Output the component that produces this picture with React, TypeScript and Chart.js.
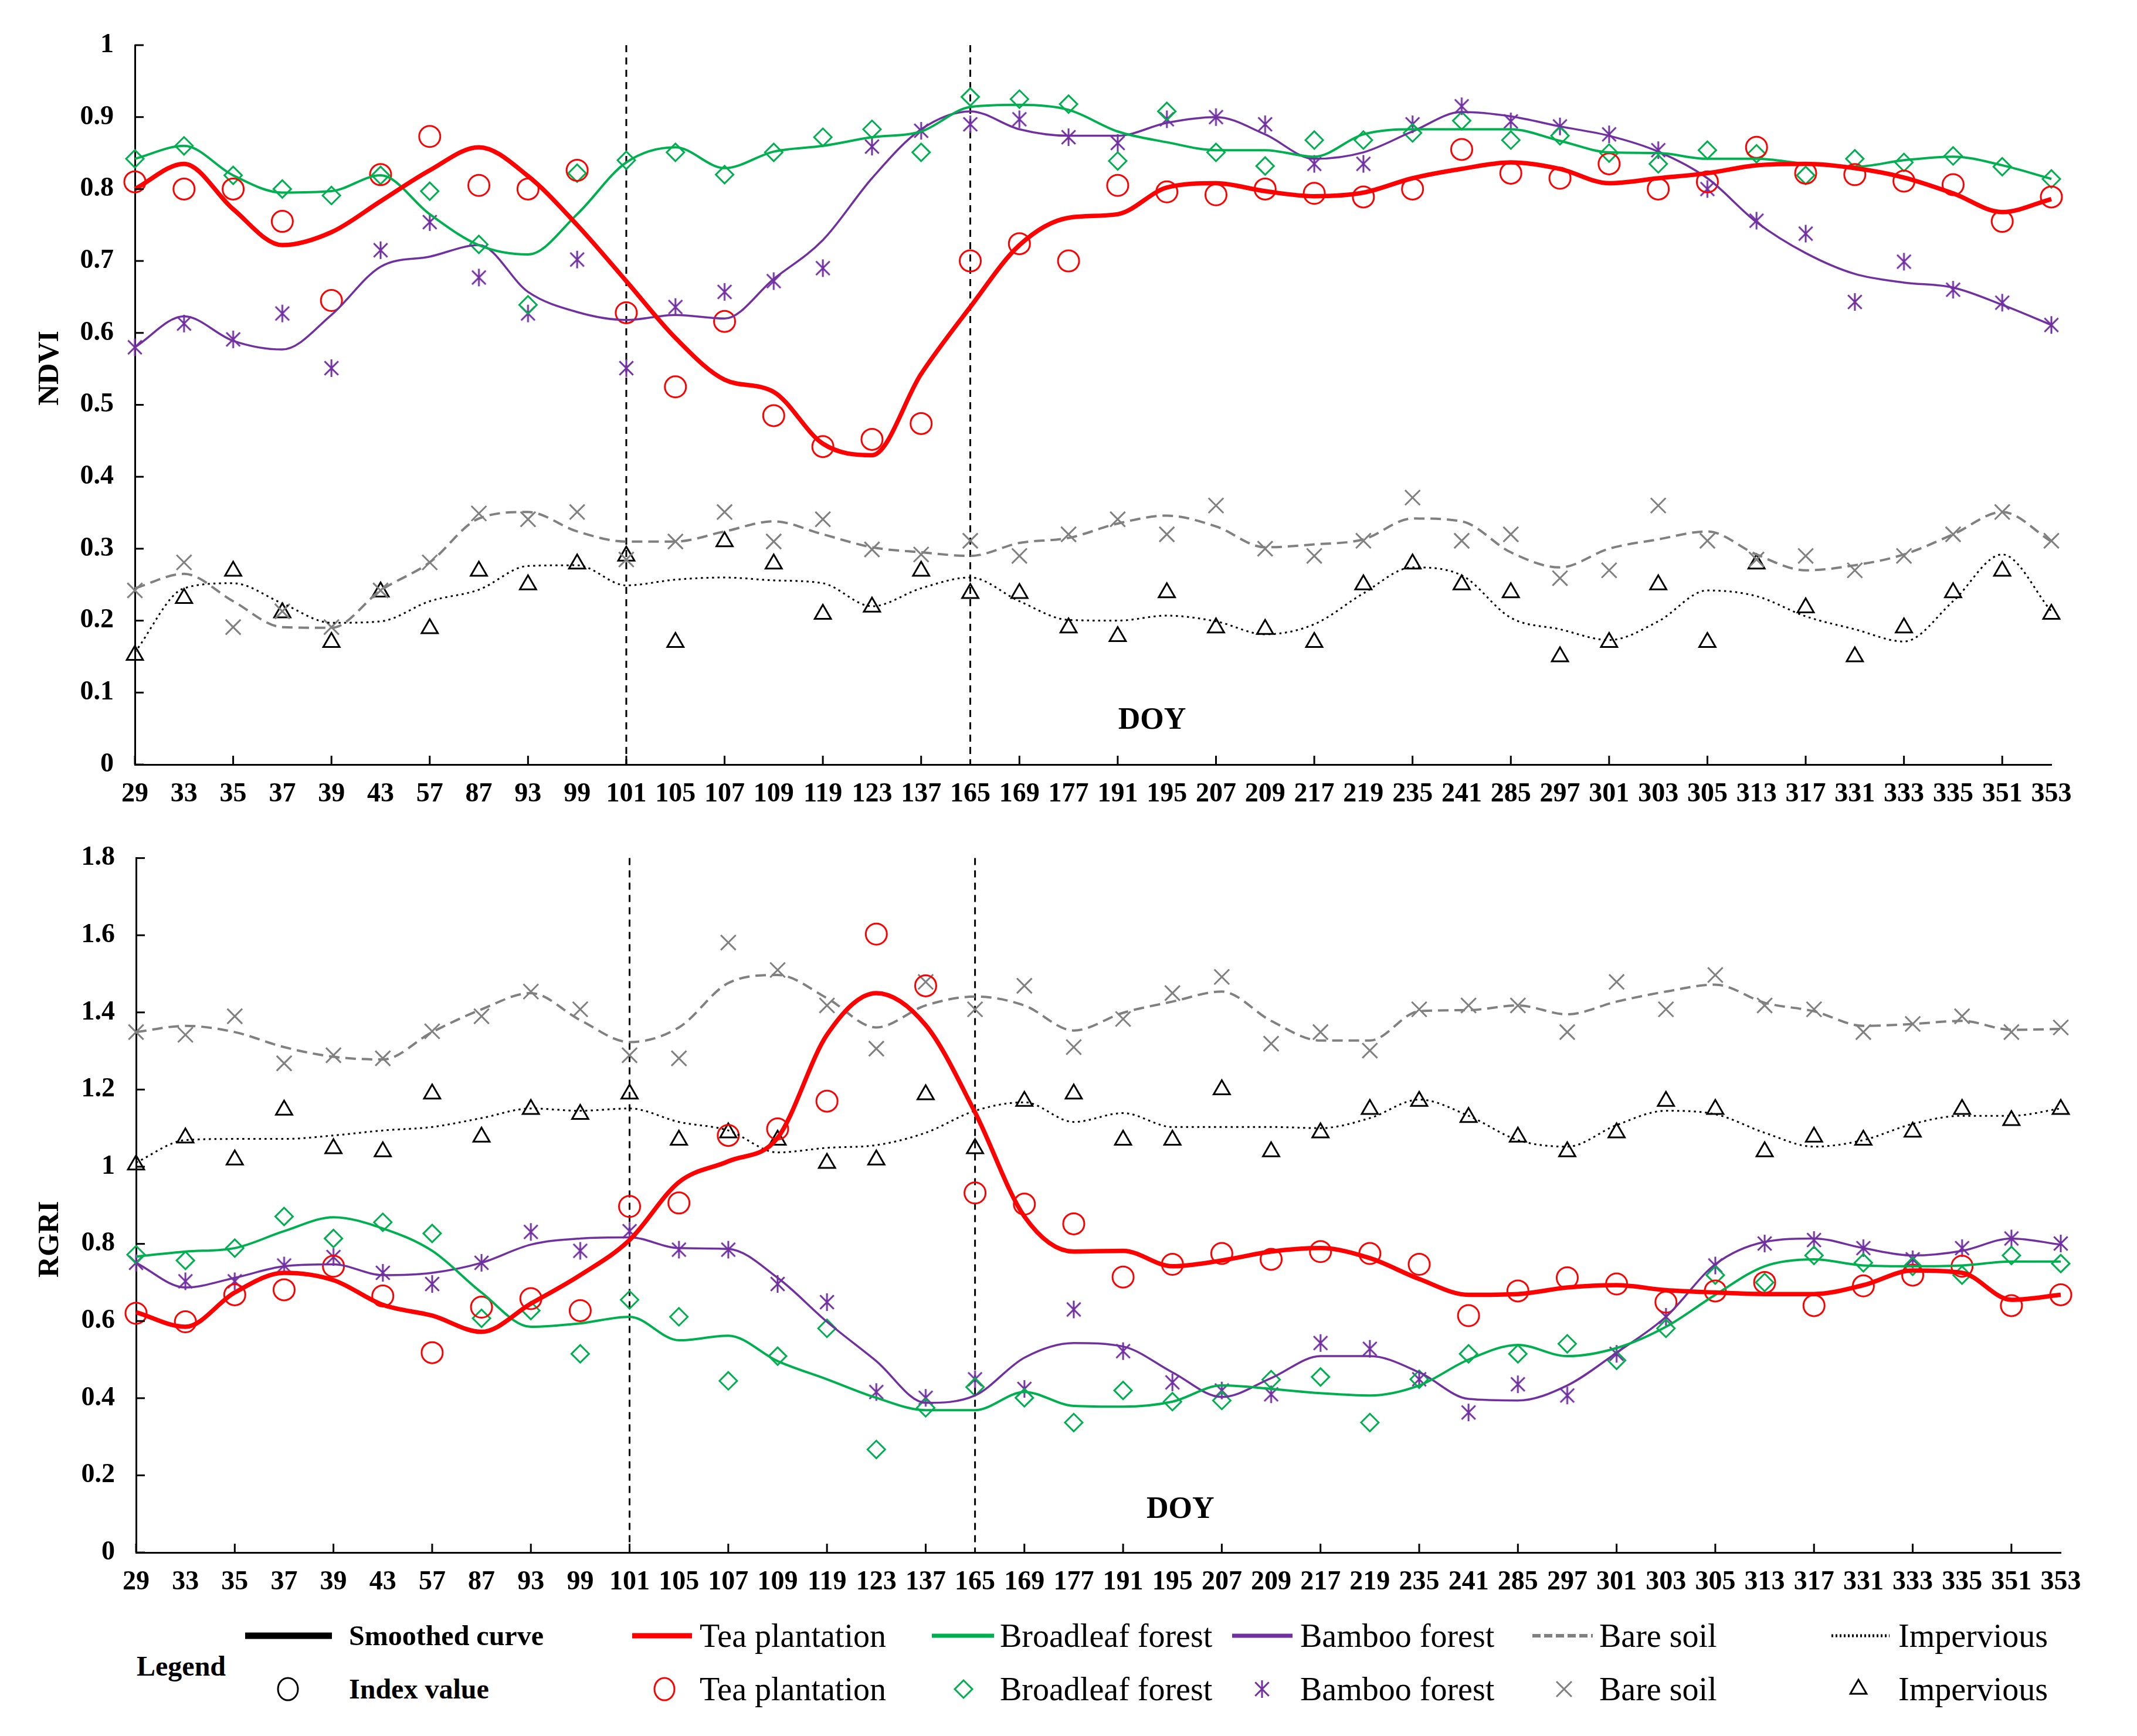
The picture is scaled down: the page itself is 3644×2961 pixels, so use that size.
import React, { useEffect, useRef } from 'react';
import { Chart, registerables } from 'chart.js';

Chart.register(...registerables);

// ---------------- DATA ----------------
const DOY_LABELS = ['29', '33', '35', '37', '39', '43', '57', '87', '93', '99', '101', '105', '107', '109', '119', '123', '137', '165', '169', '177', '191', '195', '207', '209', '217', '219', '235', '241', '285', '297', '301', '303', '305', '313', '317', '331', '333', '335', '351', '353'];

const STAGE_MARKERS = ['101', '165'];

const SERIES_NAMES = ['Tea plantation', 'Broadleaf forest', 'Bamboo forest', 'Bare soil', 'Impervious'];

// NDVI smoothed curves
const NDVI_TEA_SMOOTH = [0.80, 0.835, 0.772, 0.722, 0.74, 0.783, 0.826, 0.858, 0.818, 0.75, 0.672, 0.593, 0.535, 0.518, 0.446, 0.43, 0.543, 0.636, 0.722, 0.76, 0.765, 0.802, 0.808, 0.797, 0.79, 0.795, 0.815, 0.828, 0.837, 0.828, 0.808, 0.815, 0.822, 0.833, 0.835, 0.829, 0.816, 0.794, 0.768, 0.786];
const NDVI_BROADLEAF_SMOOTH = [0.842, 0.86, 0.819, 0.795, 0.797, 0.819, 0.765, 0.722, 0.709, 0.765, 0.837, 0.858, 0.829, 0.852, 0.86, 0.872, 0.88, 0.914, 0.917, 0.91, 0.88, 0.865, 0.854, 0.854, 0.845, 0.876, 0.883, 0.883, 0.883, 0.867, 0.851, 0.85, 0.842, 0.842, 0.835, 0.831, 0.84, 0.845, 0.833, 0.814];
const NDVI_BAMBOO_SMOOTH = [0.58, 0.623, 0.589, 0.577, 0.625, 0.692, 0.706, 0.722, 0.657, 0.629, 0.618, 0.625, 0.62, 0.675, 0.729, 0.815, 0.883, 0.908, 0.883, 0.874, 0.874, 0.892, 0.90, 0.876, 0.842, 0.851, 0.88, 0.907, 0.901, 0.887, 0.874, 0.852, 0.815, 0.754, 0.711, 0.682, 0.67, 0.663, 0.639, 0.611];
const NDVI_BARE_SMOOTH = [0.245, 0.265, 0.227, 0.191, 0.19, 0.242, 0.281, 0.342, 0.351, 0.324, 0.31, 0.31, 0.324, 0.338, 0.32, 0.302, 0.295, 0.29, 0.308, 0.315, 0.335, 0.346, 0.331, 0.302, 0.306, 0.313, 0.342, 0.338, 0.295, 0.274, 0.30, 0.313, 0.324, 0.292, 0.27, 0.277, 0.292, 0.32, 0.351, 0.31];
const NDVI_IMPERVIOUS_SMOOTH = [0.156, 0.245, 0.252, 0.224, 0.197, 0.199, 0.227, 0.243, 0.276, 0.277, 0.249, 0.257, 0.26, 0.256, 0.252, 0.22, 0.245, 0.26, 0.227, 0.201, 0.20, 0.207, 0.199, 0.181, 0.195, 0.238, 0.274, 0.263, 0.204, 0.188, 0.173, 0.199, 0.242, 0.234, 0.206, 0.188, 0.171, 0.227, 0.292, 0.213];

// NDVI index values
const NDVI_TEA_INDEX = [0.81, 0.80, 0.80, 0.755, 0.645, 0.82, 0.873, 0.805, 0.80, 0.826, 0.628, 0.525, 0.616, 0.485, 0.442, 0.452, 0.474, 0.70, 0.724, 0.70, 0.805, 0.796, 0.792, 0.80, 0.794, 0.789, 0.80, 0.855, 0.822, 0.815, 0.835, 0.80, 0.81, 0.858, 0.822, 0.82, 0.811, 0.806, 0.755, 0.789];
const NDVI_BROADLEAF_INDEX = [0.842, 0.86, 0.819, 0.80, 0.791, 0.819, 0.797, 0.723, 0.639, 0.822, 0.84, 0.851, 0.82, 0.851, 0.872, 0.883, 0.851, 0.928, 0.925, 0.918, 0.839, 0.908, 0.851, 0.832, 0.868, 0.868, 0.878, 0.895, 0.868, 0.874, 0.85, 0.835, 0.854, 0.849, 0.819, 0.842, 0.837, 0.846, 0.831, 0.814];
const NDVI_BAMBOO_INDEX = [0.58, 0.613, 0.591, 0.627, 0.551, 0.715, 0.754, 0.677, 0.627, 0.702, 0.551, 0.636, 0.657, 0.672, 0.69, 0.859, 0.881, 0.89, 0.897, 0.872, 0.864, 0.897, 0.90, 0.89, 0.835, 0.835, 0.89, 0.915, 0.894, 0.887, 0.876, 0.854, 0.80, 0.756, 0.738, 0.643, 0.699, 0.66, 0.642, 0.611];
const NDVI_BARE_INDEX = [0.242, 0.281, 0.191, 0.213, 0.191, 0.242, 0.281, 0.349, 0.341, 0.351, 0.285, 0.31, 0.351, 0.31, 0.341, 0.299, 0.292, 0.311, 0.29, 0.32, 0.341, 0.32, 0.36, 0.30, 0.29, 0.311, 0.371, 0.311, 0.32, 0.259, 0.27, 0.36, 0.311, 0.285, 0.29, 0.27, 0.29, 0.32, 0.351, 0.311];
const NDVI_IMPERVIOUS_INDEX = [0.152, 0.231, 0.269, 0.211, 0.17, 0.24, 0.189, 0.269, 0.25, 0.279, 0.29, 0.17, 0.31, 0.279, 0.209, 0.219, 0.269, 0.238, 0.238, 0.19, 0.178, 0.239, 0.19, 0.188, 0.17, 0.25, 0.279, 0.25, 0.239, 0.15, 0.17, 0.25, 0.17, 0.279, 0.218, 0.15, 0.19, 0.239, 0.269, 0.209];

// RGRI smoothed curves
const RGRI_TEA_SMOOTH = [0.623, 0.585, 0.674, 0.725, 0.706, 0.642, 0.614, 0.572, 0.645, 0.719, 0.81, 0.96, 1.014, 1.075, 1.342, 1.45, 1.367, 1.141, 0.871, 0.78, 0.782, 0.742, 0.757, 0.78, 0.789, 0.763, 0.709, 0.668, 0.67, 0.687, 0.693, 0.68, 0.674, 0.67, 0.67, 0.693, 0.731, 0.725, 0.655, 0.668];
const RGRI_BROADLEAF_SMOOTH = [0.767, 0.78, 0.789, 0.833, 0.869, 0.84, 0.782, 0.674, 0.585, 0.594, 0.611, 0.55, 0.562, 0.496, 0.449, 0.401, 0.369, 0.369, 0.416, 0.38, 0.378, 0.391, 0.433, 0.424, 0.413, 0.407, 0.433, 0.50, 0.538, 0.509, 0.53, 0.585, 0.668, 0.742, 0.76, 0.744, 0.742, 0.744, 0.754, 0.754];
const RGRI_BAMBOO_SMOOTH = [0.751, 0.687, 0.712, 0.742, 0.747, 0.719, 0.725, 0.751, 0.798, 0.814, 0.817, 0.789, 0.787, 0.712, 0.598, 0.496, 0.388, 0.407, 0.505, 0.543, 0.534, 0.467, 0.403, 0.452, 0.509, 0.509, 0.467, 0.398, 0.394, 0.433, 0.518, 0.611, 0.747, 0.805, 0.814, 0.789, 0.77, 0.782, 0.814, 0.798];
const RGRI_BARE_SMOOTH = [1.349, 1.365, 1.349, 1.31, 1.285, 1.278, 1.349, 1.408, 1.45, 1.38, 1.323, 1.361, 1.476, 1.497, 1.437, 1.361, 1.418, 1.441, 1.418, 1.353, 1.399, 1.428, 1.454, 1.378, 1.327, 1.327, 1.403, 1.406, 1.418, 1.395, 1.428, 1.454, 1.472, 1.425, 1.403, 1.365, 1.37, 1.378, 1.355, 1.357];
const RGRI_IMPERVIOUS_SMOOTH = [1.011, 1.069, 1.072, 1.072, 1.081, 1.094, 1.103, 1.126, 1.151, 1.145, 1.151, 1.116, 1.094, 1.037, 1.049, 1.056, 1.088, 1.145, 1.167, 1.116, 1.139, 1.103, 1.103, 1.103, 1.10, 1.126, 1.174, 1.132, 1.069, 1.052, 1.108, 1.145, 1.136, 1.088, 1.052, 1.069, 1.111, 1.132, 1.132, 1.151];

// RGRI index values
const RGRI_TEA_INDEX = [0.62, 0.598, 0.668, 0.681, 0.742, 0.665, 0.518, 0.636, 0.658, 0.627, 0.897, 0.906, 1.081, 1.098, 1.17, 1.603, 1.469, 0.932, 0.903, 0.852, 0.714, 0.747, 0.775, 0.76, 0.78, 0.775, 0.747, 0.614, 0.678, 0.712, 0.696, 0.649, 0.678, 0.70, 0.64, 0.691, 0.719, 0.742, 0.64, 0.668];
const RGRI_BROADLEAF_INDEX = [0.772, 0.757, 0.789, 0.871, 0.814, 0.856, 0.827, 0.607, 0.627, 0.515, 0.655, 0.611, 0.445, 0.509, 0.581, 0.267, 0.375, 0.429, 0.401, 0.337, 0.42, 0.391, 0.394, 0.448, 0.455, 0.337, 0.449, 0.515, 0.515, 0.541, 0.498, 0.581, 0.719, 0.70, 0.77, 0.751, 0.742, 0.719, 0.77, 0.749];
const RGRI_BAMBOO_INDEX = [0.751, 0.703, 0.703, 0.744, 0.766, 0.725, 0.696, 0.751, 0.831, 0.782, 0.833, 0.785, 0.785, 0.696, 0.649, 0.416, 0.401, 0.449, 0.424, 0.63, 0.522, 0.441, 0.42, 0.41, 0.543, 0.528, 0.449, 0.363, 0.436, 0.407, 0.515, 0.611, 0.744, 0.801, 0.81, 0.789, 0.76, 0.789, 0.814, 0.801];
const RGRI_BARE_INDEX = [1.349, 1.342, 1.39, 1.268, 1.289, 1.281, 1.351, 1.39, 1.454, 1.408, 1.289, 1.281, 1.581, 1.51, 1.418, 1.306, 1.479, 1.408, 1.469, 1.31, 1.383, 1.45, 1.492, 1.319, 1.349, 1.301, 1.408, 1.418, 1.418, 1.349, 1.479, 1.408, 1.497, 1.418, 1.408, 1.349, 1.37, 1.39, 1.349, 1.361];
const RGRI_IMPERVIOUS_INDEX = [1.005, 1.075, 1.018, 1.147, 1.047, 1.039, 1.189, 1.077, 1.149, 1.136, 1.189, 1.069, 1.088, 1.069, 1.009, 1.018, 1.187, 1.047, 1.17, 1.189, 1.069, 1.069, 1.20, 1.039, 1.088, 1.149, 1.17, 1.128, 1.077, 1.039, 1.088, 1.17, 1.149, 1.039, 1.077, 1.069, 1.09, 1.149, 1.12, 1.149];

// ---------------- STYLE ----------------
const FONT = '"Liberation Serif", "Times New Roman", serif';
const RED = '#FF0000';
const GREEN = '#00B050';
const PURPLE = '#7030A0';
const GRAY = '#808080';
const BLACK = '#000000';
const COLORS = [RED, GREEN, PURPLE, GRAY, BLACK];
const LINE_WIDTHS = [7.5, 4, 3.5, 4, 3];
const LINE_DASHES: number[][] = [[], [], [], [18, 10], [3.5, 6]];

function makeAsterisk(color: string, size: number, lw: number): HTMLCanvasElement {
  const c = document.createElement('canvas');
  c.width = size;
  c.height = size;
  const ctx = c.getContext('2d')!;
  ctx.strokeStyle = color;
  ctx.lineWidth = lw;
  const m = size / 2;
  const r = size / 2 - 1;
  const d = r * 0.78;
  ctx.beginPath();
  ctx.moveTo(m, m - r);
  ctx.lineTo(m, m + r);
  ctx.moveTo(m - d, m - d);
  ctx.lineTo(m + d, m + d);
  ctx.moveTo(m + d, m - d);
  ctx.lineTo(m - d, m + d);
  ctx.stroke();
  return c;
}

const decorPlugin = {
  id: 'decor',
  beforeDatasetsDraw(chart: any, _args: any, opts: any) {
    const { ctx, chartArea, scales } = chart;
    ctx.save();
    ctx.strokeStyle = '#000';
    ctx.lineWidth = 3;
    ctx.setLineDash([12, 9]);
    for (const lab of opts.vlines || []) {
      const x = scales.x.getPixelForValue(DOY_LABELS.indexOf(lab));
      ctx.beginPath();
      ctx.moveTo(x, chartArea.top);
      ctx.lineTo(x, chartArea.bottom);
      ctx.stroke();
    }
    ctx.restore();
  },
  afterDraw(chart: any, _args: any, opts: any) {
    const { ctx, chartArea, scales } = chart;
    ctx.save();
    ctx.strokeStyle = '#000';
    ctx.lineWidth = 3;
    ctx.setLineDash([]);
    const ys = scales.y;
    ys.ticks.forEach((_t: any, i: number) => {
      const y = ys.getPixelForTick(i);
      ctx.beginPath();
      ctx.moveTo(chartArea.left, y);
      ctx.lineTo(chartArea.left + 15, y);
      ctx.stroke();
    });
    const xs = scales.x;
    xs.ticks.forEach((_t: any, i: number) => {
      if (i % 2 !== 0) return;
      const x = xs.getPixelForTick(i);
      ctx.beginPath();
      ctx.moveTo(x, chartArea.bottom);
      ctx.lineTo(x, chartArea.bottom - 15);
      ctx.stroke();
    });
    ctx.fillStyle = '#000';
    ctx.font = `bold 52px ${FONT}`;
    ctx.textAlign = 'center';
    ctx.textBaseline = 'middle';
    ctx.fillText('DOY', xs.getPixelForValue(opts.doy[0]), ys.getPixelForValue(opts.doy[1]));
    ctx.save();
    ctx.translate(opts.titleX, chartArea.top + opts.titleFrac * (chartArea.bottom - chartArea.top));
    ctx.rotate(-Math.PI / 2);
    ctx.font = `bold 50px ${FONT}`;
    ctx.fillText(opts.title, 0, 0);
    ctx.restore();
    ctx.restore();
  },
};

interface ChartOpts {
  smooth: number[][];
  index: number[][];
  yMax: number;
  step: number;
  padTop: number;
  padRight: number;
  yAxisW: number;
  xAxisH: number;
  title: string;
  titleFrac: number;
  doy: [number, number];
}

function buildChart(canvas: HTMLCanvasElement, o: ChartOpts) {
  const star = makeAsterisk(PURPLE, 32, 3);
  const pointStyles: any[] = ['circle', 'rectRot', star, 'crossRot', 'triangle'];
  const pointRadii = [18, 15, 16, 18, 16];
  const datasets: any[] = [];
  o.smooth.forEach((d, i) => {
    datasets.push({
      label: SERIES_NAMES[i] + ' (smoothed curve)',
      data: d,
      borderColor: COLORS[i],
      borderWidth: LINE_WIDTHS[i],
      borderDash: LINE_DASHES[i],
      pointRadius: 0,
      pointHoverRadius: 0,
      cubicInterpolationMode: 'monotone',
      fill: false,
      clip: false,
      order: 1,
    });
  });
  o.index.forEach((d, i) => {
    datasets.push({
      label: SERIES_NAMES[i] + ' (index value)',
      data: d,
      showLine: false,
      borderColor: COLORS[i],
      pointStyle: pointStyles[i],
      pointRadius: pointRadii[i],
      pointHoverRadius: pointRadii[i],
      pointBorderWidth: 3,
      pointBorderColor: COLORS[i],
      pointBackgroundColor: 'rgba(0,0,0,0)',
      clip: false,
      order: 2,
    });
  });
  const tickFont = { family: FONT, size: 46, weight: 'bold' as const };
  return new Chart(canvas, {
    type: 'line',
    data: { labels: DOY_LABELS, datasets },
    plugins: [decorPlugin as any],
    options: {
      responsive: false,
      animation: false,
      devicePixelRatio: 1,
      events: [],
      layout: { padding: { top: o.padTop, right: o.padRight, left: 0, bottom: 0 } },
      plugins: {
        legend: { display: false },
        tooltip: { enabled: false },
        decor: {
          vlines: STAGE_MARKERS,
          doy: o.doy,
          title: o.title,
          titleX: 86,
          titleFrac: o.titleFrac,
        },
      } as any,
      scales: {
        x: {
          type: 'category',
          offset: false,
          grid: { display: false, drawTicks: false },
          border: { display: true, color: '#000', width: 3 },
          ticks: {
            autoSkip: false,
            maxRotation: 0,
            minRotation: 0,
            color: '#000',
            font: tickFont,
            padding: 24,
          },
          afterFit: (s: any) => {
            s.height = o.xAxisH;
          },
        },
        y: {
          min: 0,
          max: o.yMax,
          grid: { display: false, drawTicks: false },
          border: { display: true, color: '#000', width: 3 },
          ticks: {
            stepSize: o.step,
            color: '#000',
            font: tickFont,
            padding: 36,
            callback: (v: any) => String(Math.round(Number(v) * 10) / 10),
          },
          afterFit: (s: any) => {
            s.width = o.yAxisW;
          },
        },
      },
    },
  });
}

// ---------------- LEGEND ----------------
const ROW1 = 2790;
const ROW2 = 2881;

function Text({ x, y, text, bold, size }: { x: number; y: number; text: string; bold?: boolean; size: number }) {
  return (
    <div
      style={{
        position: 'absolute',
        left: x,
        top: y,
        transform: 'translateY(-50%)',
        fontFamily: FONT,
        fontSize: size,
        fontWeight: bold ? 'bold' : 'normal',
        lineHeight: 1,
        whiteSpace: 'nowrap',
        color: '#000',
      }}
    >
      {text}
    </div>
  );
}

function Marker({ kind, color, cx, cy }: { kind: number; color: string; cx: number; cy: number }) {
  const s = 50;
  const m = s / 2;
  let shape: React.ReactNode = null;
  if (kind === 0) shape = <ellipse cx={m} cy={m} rx={17} ry={19} fill="none" stroke={color} strokeWidth={3} />;
  if (kind === 1) shape = <polygon points={`${m - 15},${m} ${m},${m - 15} ${m + 15},${m} ${m},${m + 15}`} fill="none" stroke={color} strokeWidth={3} />;
  if (kind === 2) {
    const r = 15;
    const d = r * 0.78;
    shape = (
      <g stroke={color} strokeWidth={3}>
        <line x1={m} y1={m - r} x2={m} y2={m + r} />
        <line x1={m - d} y1={m - d} x2={m + d} y2={m + d} />
        <line x1={m + d} y1={m - d} x2={m - d} y2={m + d} />
      </g>
    );
  }
  if (kind === 3) {
    const d = 13;
    shape = (
      <g stroke={color} strokeWidth={3}>
        <line x1={m - d} y1={m - d} x2={m + d} y2={m + d} />
        <line x1={m + d} y1={m - d} x2={m - d} y2={m + d} />
      </g>
    );
  }
  if (kind === 4) {
    const r = 16;
    shape = <polygon points={`${m},${m - r} ${m - 0.866 * r},${m + 0.5 * r} ${m + 0.866 * r},${m + 0.5 * r}`} fill="none" stroke={color} strokeWidth={3} />;
  }
  return (
    <svg width={s} height={s} style={{ position: 'absolute', left: cx - m, top: cy - m }}>
      {shape}
    </svg>
  );
}

function LineSample({ x1, x2, y, color, width, dash }: { x1: number; x2: number; y: number; color: string; width: number; dash?: string }) {
  return (
    <svg width={x2 - x1} height={30} style={{ position: 'absolute', left: x1, top: y - 15 }}>
      <line x1={0} y1={15} x2={x2 - x1} y2={15} stroke={color} strokeWidth={width} strokeDasharray={dash} />
    </svg>
  );
}

function Legend() {
  const textX = [1193, 1705, 2217, 2727, 3237];
  const lineX = [[1078, 1180], [1589, 1695], [2101, 2204], [2613, 2716], [3123, 3222]];
  const markerX = [1133, 1643, 2152, 2667, 3169];
  const legW = [9, 7, 7, 6, 5];
  const legDash = [undefined, undefined, undefined, '14 6', '3 4'];
  return (
    <>
      <Text x={233} y={2842} text="Legend" bold size={48} />
      <LineSample x1={418} x2={566} y={ROW1} color={BLACK} width={11} />
      <Text x={595} y={ROW1} text="Smoothed curve" bold size={48} />
      <Marker kind={0} color={BLACK} cx={491} cy={ROW2} />
      <Text x={595} y={ROW2} text="Index value" bold size={48} />
      {SERIES_NAMES.map((name, i) => (
        <React.Fragment key={name}>
          <LineSample x1={lineX[i][0]} x2={lineX[i][1]} y={ROW1} color={COLORS[i]} width={legW[i]} dash={legDash[i]} />
          <Text x={textX[i]} y={ROW1} text={name} size={56} />
          <Marker kind={i} color={COLORS[i]} cx={markerX[i]} cy={ROW2} />
          <Text x={textX[i]} y={ROW2} text={name} size={56} />
        </React.Fragment>
      ))}
    </>
  );
}

export default function App() {
  const topRef = useRef<HTMLCanvasElement>(null);
  const botRef = useRef<HTMLCanvasElement>(null);

  useEffect(() => {
    document.body.style.margin = '0';
    const top = buildChart(topRef.current!, {
      smooth: [NDVI_TEA_SMOOTH, NDVI_BROADLEAF_SMOOTH, NDVI_BAMBOO_SMOOTH, NDVI_BARE_SMOOTH, NDVI_IMPERVIOUS_SMOOTH],
      index: [NDVI_TEA_INDEX, NDVI_BROADLEAF_INDEX, NDVI_BAMBOO_INDEX, NDVI_BARE_INDEX, NDVI_IMPERVIOUS_INDEX],
      yMax: 1,
      step: 0.1,
      padTop: 77,
      padRight: 146,
      yAxisW: 230,
      xAxisH: 96,
      title: 'NDVI',
      titleFrac: 0.449,
      doy: [20.7, 0.061],
    });
    const bot = buildChart(botRef.current!, {
      smooth: [RGRI_TEA_SMOOTH, RGRI_BROADLEAF_SMOOTH, RGRI_BAMBOO_SMOOTH, RGRI_BARE_SMOOTH, RGRI_IMPERVIOUS_SMOOTH],
      index: [RGRI_TEA_INDEX, RGRI_BROADLEAF_INDEX, RGRI_BAMBOO_INDEX, RGRI_BARE_INDEX, RGRI_IMPERVIOUS_INDEX],
      yMax: 1.8,
      step: 0.2,
      padTop: 45,
      padRight: 130,
      yAxisW: 232,
      xAxisH: 132,
      title: 'RGRI',
      titleFrac: 0.549,
      doy: [21.16, 0.11],
    });
    return () => {
      top.destroy();
      bot.destroy();
    };
  }, []);

  return (
    <div style={{ position: 'relative', width: 3644, height: 2961, background: '#fff', overflow: 'hidden' }}>
      <canvas ref={topRef} width={3644} height={1400} style={{ position: 'absolute', left: 0, top: 0, width: 3644, height: 1400 }} />
      <canvas ref={botRef} width={3644} height={1380} style={{ position: 'absolute', left: 0, top: 1400, width: 3644, height: 1380 }} />
      <Legend />
    </div>
  );
}
